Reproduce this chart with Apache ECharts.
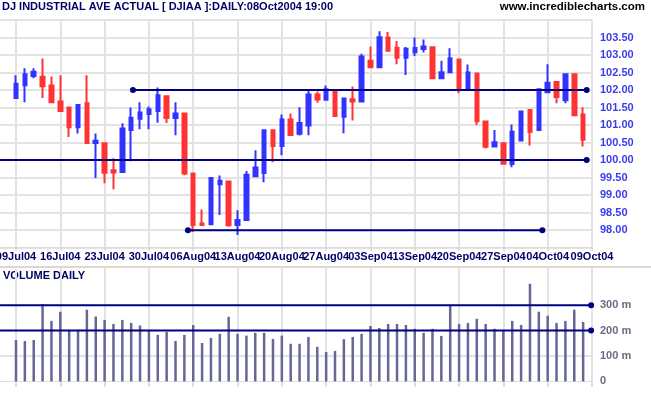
<!DOCTYPE html>
<html><head><meta charset="utf-8">
<script src="https://cdn.jsdelivr.net/npm/echarts@6/dist/echarts.min.js"></script>
<style>html,body{margin:0;padding:0;background:#fff}#c{width:651px;height:395px}</style>
</head><body><div id="c"></div>
<script>
// x tick labels, one every 5 trading days (index 0,5,...,65)
const tickLabels = ['09Jul04','16Jul04','23Jul04','30Jul04','06Aug04','13Aug04','20Aug04','27Aug04','03Sep04','13Sep04','20Sep04','27Sep04','04Oct04','09Oct04'];
const opens  = [101.77,102.14,102.40,102.38,102.13,101.67,101.50,100.94,101.62,100.49,100.48,99.71,99.66,100.86,101.18,101.32,101.40,101.82,101.20,101.33,99.62,98.19,98.17,99.31,99.39,98.15,98.29,99.54,99.63,100.85,100.40,101.16,100.75,100.99,101.87,101.72,102.00,101.24,101.74,101.67,102.84,102.65,103.50,103.21,102.92,103.08,103.17,103.22,102.34,102.51,102.87,102.03,102.47,101.10,100.39,100.48,99.89,100.56,101.43,100.86,101.94,102.23,101.71,102.45,101.30];
const closes = [102.18,102.45,102.52,102.11,101.65,101.40,100.94,101.57,100.49,100.55,99.64,99.65,100.90,101.21,101.36,101.45,101.85,101.20,101.33,99.62,98.15,98.15,99.49,99.41,98.14,98.29,99.58,99.79,100.85,100.40,101.16,100.72,101.06,101.87,101.73,102.02,101.26,101.76,101.67,102.96,102.65,103.51,103.12,102.92,103.18,103.20,103.24,102.34,102.51,102.91,102.03,102.50,101.11,100.38,100.51,99.90,100.81,101.39,100.80,102.02,102.21,101.80,102.45,101.28,100.58];
const lows   = [101.77,101.65,102.34,101.77,101.65,101.40,100.66,100.76,100.49,99.49,99.34,99.17,99.66,99.97,100.88,100.88,101.07,101.06,100.71,99.57,97.95,98.15,98.17,98.43,98.10,97.86,98.29,99.54,99.37,99.94,100.14,100.70,100.70,100.71,101.64,101.70,101.26,100.77,101.13,101.65,102.65,102.65,103.10,102.74,102.43,102.97,103.07,102.34,102.34,102.51,101.91,102.03,101.00,100.33,100.37,99.90,99.80,100.53,100.42,100.86,101.94,101.62,101.62,101.28,100.39];
const highs  = [102.42,102.62,102.62,102.90,102.39,102.42,101.52,101.59,102.42,100.76,100.48,100.05,101.05,101.50,101.65,101.53,102.07,101.82,101.65,101.33,99.62,98.59,99.49,99.56,99.39,98.57,99.69,100.28,100.85,100.85,101.30,101.33,101.51,102.02,101.96,102.13,102.00,101.76,102.10,103.04,103.24,103.68,103.66,103.40,103.23,103.50,103.44,103.22,102.84,103.19,102.87,102.73,102.47,101.10,100.86,100.48,101.02,101.39,101.45,102.05,102.74,102.25,102.45,102.45,101.51];
// daily volume, millions
const volumes = [163,159,163,304,238,274,203,203,282,255,242,226,242,230,220,203,183,195,159,183,222,151,171,187,254,187,180,191,191,167,180,148,148,175,136,116,120,166,175,187,218,210,226,226,222,207,191,207,179,301,226,230,246,226,207,203,238,222,384,274,258,230,238,282,234];
// drawn support / resistance lines (value, from index, to index, dots at ends)
const priceLevels = [
  {value:102, from:13.2, to:64.4, dots:[true,true]},
  {value:100, from:-5,   to:64.4, dots:[false,true]},
  {value:98,  from:19.4, to:59.4, dots:[true,true]}
];
const volumeLevels = [
  {value:300, from:-5, to:64.9, dots:[false,true]},
  {value:200, from:-5, to:64.9, dots:[false,true]}
];
const volumeTickValues = [0,100,200,300];

const FONT = 'Liberation Sans, Arial, sans-serif';
const NAVY = '#000080';
const GRID = '#e3e3e3';

const chart = echarts.init(document.getElementById('c'), null, {renderer:'canvas'});

function levelSeries(l, xi, yi){
  return {
    type:'line', xAxisIndex:xi, yAxisIndex:yi, silent:true, z:5, animation:false,
    symbolSize:6,
    lineStyle:{color:NAVY, width:2}, itemStyle:{color:NAVY},
    data:[{value:[l.from,l.value], symbol:l.dots[0]?'circle':'none'},
          {value:[l.to,l.value], symbol:l.dots[1]?'circle':'none'}]
  };
}

const series = [
  {
    type:'candlestick', xAxisIndex:0, yAxisIndex:0, animation:false, silent:true,
    dimensions:['idx','open','close','lowest','highest'],
    encode:{x:0, y:[1,2,3,4]},
    data: opens.map((o,i)=>[i,o,closes[i],lows[i],highs[i]]),
    barWidth:4,
    itemStyle:{color:'#3333ff', color0:'#ff3333', borderColor:'#3333ff', borderColor0:'#ff3333', borderWidth:2}
  },
  {
    type:'line', xAxisIndex:1, yAxisIndex:1, silent:true, animation:false, symbol:'none', z:1,
    lineStyle:{color:GRID, width:2},
    data:[[-5,100],[65,100]]
  },
  {
    type:'bar', xAxisIndex:1, yAxisIndex:1, animation:false, silent:true,
    barWidth:2.5,
    itemStyle:{color:'#666699'},
    data: volumes.map((v,i)=>[i,v])
  }
];
priceLevels.forEach(l=>series.push(levelSeries(l,0,0)));
volumeLevels.forEach(l=>series.push(levelSeries(l,1,1)));

const left = -28.31, width = 620.3;

chart.setOption({
  animation:false,
  backgroundColor:'#ffffff',
  grid:[
    {left:left, width:width, top:20, height:227.7, outerBoundsMode:'none', containLabel:false},
    {left:left, width:width, top:267, height:119.5, outerBoundsMode:'none', containLabel:false}
  ],
  xAxis:[
    {type:'value', gridIndex:0, min:-5, max:65, interval:5,
     axisLine:{show:true, lineStyle:{color:'#dcdcdc', width:1}},
     axisTick:{show:true, length:3, lineStyle:{color:'#dcdcdc', width:2}},
     splitLine:{show:true, lineStyle:{color:GRID, width:2}},
     axisLabel:{show:true, margin:4, color:'#000066', fontWeight:'bold', fontSize:11, fontFamily:FONT,
       showMinLabel:true, showMaxLabel:true,
       formatter:v=>{const k=Math.round(v/5); return (k>=0 && k<tickLabels.length)?tickLabels[k]:'';}}
    },
    {type:'value', gridIndex:1, min:-5, max:65, interval:5,
     axisLine:{show:true, lineStyle:{color:'#dcdcdc', width:1}},
     axisTick:{show:true, length:5, lineStyle:{color:'#dcdcdc', width:2}},
     splitLine:{show:true, lineStyle:{color:GRID, width:2}},
     axisLabel:{show:false}
    }
  ],
  yAxis:[
    {type:'value', gridIndex:0, position:'right', min:97.5, max:104, interval:0.5, scale:true,
     axisLine:{show:false}, axisTick:{show:false},
     splitLine:{show:true, lineStyle:{color:GRID, width:2}},
     axisLabel:{margin:8, color:'#3b3bef', fontWeight:'bold', fontSize:11, fontFamily:FONT,
       formatter:v=>(v>=97.99 && v<=103.51)?v.toFixed(2):''}
    },
    {type:'value', gridIndex:1, position:'right', min:-20, max:450,
     axisLine:{show:false}, axisTick:{show:false}, splitLine:{show:false},
     axisLabel:{margin:8, color:'#6b6b85', fontWeight:'bold', fontSize:11, fontFamily:FONT,
       customValues:volumeTickValues,
       formatter:v=>v===0?'0':(v+' m')}
    }
  ],
  graphic:[
    {type:'rect', left:0, top:266, shape:{width:651, height:2}, style:{fill:'#dad8cf'}, silent:true},
    {type:'text', left:2, top:1, style:{text:'DJ INDUSTRIAL AVE ACTUAL [ DJIAA ]:DAILY:08Oct2004 19:00', fill:'#000066', font:'bold 11px '+FONT}},
    {type:'text', right:6, top:1, style:{text:'www.incrediblecharts.com', fill:'#000000', font:'bold 11.5px '+FONT}},
    {type:'text', left:3, top:270, style:{text:'VOLUME DAILY', fill:'#000066', font:'bold 11px '+FONT}}
  ],
  series:series
});
</script></body></html>
